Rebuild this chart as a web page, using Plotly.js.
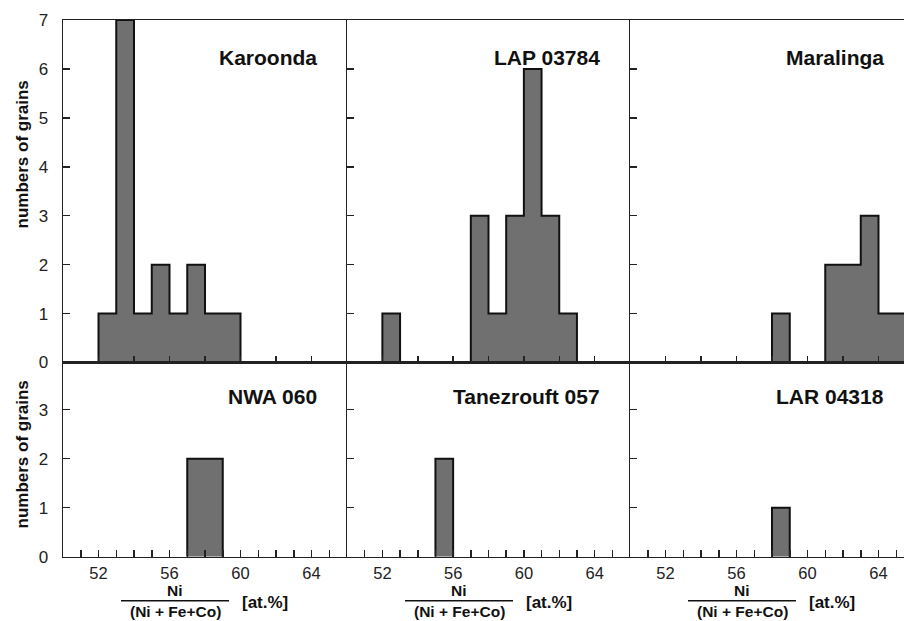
<!DOCTYPE html>
<html>
<head>
<meta charset="utf-8">
<script src="https://cdn.plot.ly/plotly-3.0.1.min.js"></script>
<style>html,body{margin:0;padding:0;background:#fff;}#chart{width:904px;height:621px;}</style>
</head>
<body>
<div id="chart"></div>
<script>
// ---- data (bin left edges, bin width 1 at.%) ----
const sampleNames = ['Karoonda', 'LAP 03784', 'Maralinga', 'NWA 060', 'Tanezrouft 057', 'LAR 04318'];
const karoondaBins = [52, 53, 54, 55, 56, 57, 58, 59];
const karoondaCounts = [1, 7, 1, 2, 1, 2, 1, 1];
const lapBins = [52, 53, 54, 55, 56, 57, 58, 59, 60, 61, 62];
const lapCounts = [1, 0, 0, 0, 0, 3, 1, 3, 6, 3, 1];
const maralingaBins = [58, 59, 60, 61, 62, 63, 64, 65];
const maralingaCounts = [1, 0, 0, 2, 2, 3, 1, 1];
const nwaBins = [57, 58];
const nwaCounts = [2, 2];
const tanezBins = [55];
const tanezCounts = [2];
const larBins = [58];
const larCounts = [1];
const binWidth = 1;
const xTickLabels = ['52', '56', '60', '64'];
const topYTicks = [0, 1, 2, 3, 4, 5, 6, 7];
const bottomYTicks = [0, 1, 2, 3];

const bins = [karoondaBins, lapBins, maralingaBins, nwaBins, tanezBins, larBins];
const counts = [karoondaCounts, lapCounts, maralingaCounts, nwaCounts, tanezCounts, larCounts];

const W = 904, H = 621;
const FONT = '"Liberation Sans", Arial, sans-serif';
const colPx = [[63, 347], [347, 630], [630, 904]];
const topPx = [20, 362.5], botPx = [362.5, 556.7];
const pxPerUnit = 17.75;

function stepData(b, c) {
  const xs = [b[0]], ys = [0];
  for (let i = 0; i < b.length; i++) { xs.push(b[i]); ys.push(c[i]); }
  xs.push(b[b.length - 1] + binWidth); ys.push(0);
  return {xs, ys};
}

const traces = [];
for (let i = 0; i < 6; i++) {
  const s = stepData(bins[i], counts[i]);
  const n = i + 1;
  traces.push({
    type: 'scatter', mode: 'lines', x: s.xs, y: s.ys,
    xaxis: n === 1 ? 'x' : 'x' + n, yaxis: n === 1 ? 'y' : 'y' + n,
    line: {shape: 'hv', color: '#111', width: 2},
    fill: 'tozeroy', fillcolor: '#707070',
    hoverinfo: 'skip', showlegend: false
  });
}

const layout = {
  width: W, height: H,
  margin: {l: 0, r: 0, t: 0, b: 0},
  paper_bgcolor: '#fff', plot_bgcolor: '#fff',
  showlegend: false,
  font: {family: FONT, size: 17, color: '#222'},
  annotations: [], shapes: []
};

const bottomTickVals = [];
for (let v = 51; v <= 65; v++) bottomTickVals.push(v);
const bottomTickText = bottomTickVals.map(v => xTickLabels.includes(String(v)) ? String(v) : '');

for (let i = 0; i < 6; i++) {
  const n = i + 1;
  const col = i % 3, row = i < 3 ? 0 : 1;
  const xk = n === 1 ? 'xaxis' : 'xaxis' + n;
  const yk = n === 1 ? 'yaxis' : 'yaxis' + n;
  const xid = n === 1 ? 'x' : 'x' + n;
  const yid = n === 1 ? 'y' : 'y' + n;
  const cp = colPx[col];
  const rp = row === 0 ? topPx : botPx;
  const xmax = 50 + (cp[1] - cp[0]) / pxPerUnit;
  const ax = {
    domain: [cp[0] / W, cp[1] / W], anchor: yid, range: [50, col === 2 ? xmax : 66],
    showgrid: false, zeroline: false, showline: true, mirror: true,
    linecolor: '#222', linewidth: 1.5,
    ticks: 'inside', ticklen: 7, tickwidth: 1.5, tickcolor: '#222',
    fixedrange: true
  };
  if (row === 0) {
    ax.tickmode = 'linear'; ax.tick0 = 50; ax.dtick = 2; ax.showticklabels = false;
  } else {
    ax.tickmode = 'array'; ax.tickvals = bottomTickVals; ax.ticktext = bottomTickText;
    ax.showticklabels = true; ax.tickfont = {family: FONT, size: 16.5, color: '#222'};
    ax.ticklabelstandoff = 1;
  }
  layout[xk] = ax;
  const ay = {
    domain: [1 - rp[1] / H, 1 - rp[0] / H], anchor: xid,
    range: row === 0 ? [0, 7] : [0, (rp[1] - rp[0]) / 49],
    tickmode: 'array', tickvals: row === 0 ? topYTicks : bottomYTicks,
    showgrid: false, zeroline: false, showline: true, mirror: false,
    linecolor: '#222', linewidth: 1.5,
    ticks: 'inside', ticklen: 7, tickwidth: 1.5, tickcolor: '#222',
    showticklabels: col === 0, tickfont: {family: FONT, size: 17, color: '#222'},
    ticklabelstandoff: 10, fixedrange: true
  };
  layout[yk] = ay;

  // panel label
  layout.annotations.push({
    xref: xid, yref: yid, x: 64.4, y: row === 0 ? 6.23 : 3.26,
    xanchor: 'right', yanchor: 'middle', showarrow: false,
    text: '<b>' + sampleNames[i] + '</b>',
    font: {family: FONT, size: 21, color: '#111'}
  });
}

// y-axis titles
[155, 455].forEach(py => {
  layout.annotations.push({
    xref: 'paper', yref: 'paper', x: 21.5 / W, y: 1 - py / H,
    xanchor: 'center', yanchor: 'middle', textangle: -90, showarrow: false,
    text: '<b>numbers of grains</b>', font: {family: FONT, size: 17, color: '#111'}
  });
});

// x-axis titles (fraction) under each bottom panel
colPx.forEach(cp => {
  const L = cp[0];
  const cx = L + 112;
  layout.annotations.push({
    xref: 'paper', yref: 'paper', x: cx / W, y: 1 - 600 / H,
    xanchor: 'center', yanchor: 'bottom', showarrow: false, borderpad: 0,
    text: '<b>Ni</b>', font: {family: FONT, size: 15.5, color: '#111'}
  });
  layout.annotations.push({
    xref: 'paper', yref: 'paper', x: cx / W, y: 1 - 601.8 / H,
    xanchor: 'center', yanchor: 'top', showarrow: false, borderpad: 0,
    text: '<b>(Ni + Fe+Co)</b>', font: {family: FONT, size: 15.5, color: '#111'}
  });
  layout.annotations.push({
    xref: 'paper', yref: 'paper', x: (L + 177) / W, y: 1 - 602 / H,
    xanchor: 'left', yanchor: 'middle', showarrow: false,
    text: '<b>[at.%]</b>', font: {family: FONT, size: 17, color: '#111'}
  });
  layout.shapes.push({
    type: 'line', xref: 'paper', yref: 'paper',
    x0: (L + 58) / W, x1: (L + 166) / W, y0: 1 - 600.8 / H, y1: 1 - 600.8 / H,
    line: {color: '#111', width: 1.5}
  });
});

Plotly.newPlot('chart', traces, layout, {staticPlot: true, displayModeBar: false});
</script>
</body>
</html>
